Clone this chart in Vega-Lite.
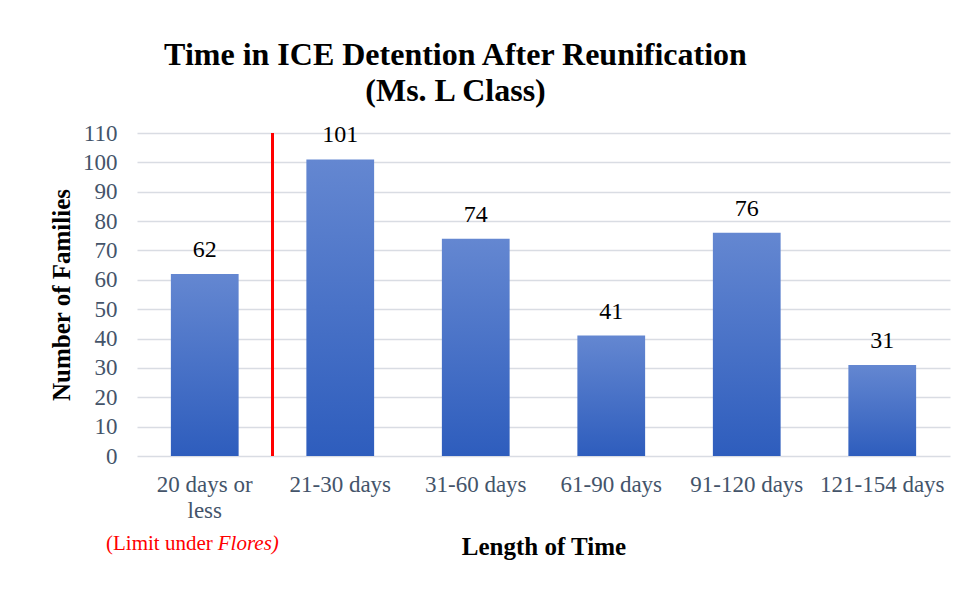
{
  "$schema": "https://vega.github.io/schema/vega-lite/v6.json",
  "width": 813,
  "height": 323,
  "autosize": "none",
  "padding": {"left": 137, "top": 133, "right": 14, "bottom": 136},
  "background": "white",
  "config": {"font": "Liberation Serif", "view": {"stroke": null}},
  "title": {
    "text": "Time in ICE Detention After Reunification",
    "subtitle": "(Ms. L Class)",
    "font": "Liberation Serif",
    "subtitleFont": "Liberation Serif",
    "fontSize": 32,
    "subtitleFontSize": 32,
    "fontWeight": "bold",
    "subtitleFontWeight": "bold",
    "color": "black",
    "subtitleColor": "black",
    "anchor": "middle",
    "dx": -88,
    "offset": 14,
    "subtitlePadding": 4
  },
  "datasets": {
    "bars": [
      {"cat": "20 days or less", "n": 62},
      {"cat": "21-30 days", "n": 101},
      {"cat": "31-60 days", "n": 74},
      {"cat": "61-90 days", "n": 41},
      {"cat": "91-120 days", "n": 76},
      {"cat": "121-154 days", "n": 31}
    ],
    "limit": [{"cat": "20 days or less", "n": 0, "hi": 110}],
    "note": [{"cat": "20 days or less", "n": -30, "a": "(Limit under", "b": "Flores)"}]
  },
  "encoding": {
    "x": {
      "field": "cat", "type": "nominal", "title": "Length of Time",
      "scale": {"domain": ["20 days or less", "21-30 days", "31-60 days", "61-90 days", "91-120 days", "121-154 days"], "paddingInner": 0.5, "paddingOuter": 0.25},
      "axis": {
        "labelAngle": 0,
        "labelExpr": "datum.value == '20 days or less' ? ['20 days or', 'less'] : datum.value",
        "labelFontSize": 23,
        "labelColor": "#44546A",
        "labelPadding": 17,
        "labelLineHeight": 26,
        "labelLimit": 300,
        "ticks": false,
        "domain": false,
        "titleFontSize": 25,
        "titleFontWeight": "bold",
        "titleColor": "black",
        "titlePadding": 12
      }
    },
    "y": {
      "field": "n", "type": "quantitative", "title": "Number of Families",
      "scale": {"domain": [0, 110], "nice": false},
      "axis": {
        "values": [0, 10, 20, 30, 40, 50, 60, 70, 80, 90, 100, 110],
        "labelOverlap": false,
        "labelFontSize": 23,
        "labelColor": "#44546A",
        "labelPadding": 20,
        "grid": true,
        "gridColor": "#D9DCE3",
        "gridWidth": 1.5,
        "ticks": false,
        "domain": false,
        "titleFontSize": 25,
        "titleFontWeight": "bold",
        "titleColor": "black",
        "titlePadding": 8
      }
    }
  },
  "layer": [
    {
      "data": {"name": "bars"},
      "mark": {
        "type": "bar",
        "color": {
          "gradient": "linear", "x1": 0, "y1": 0, "x2": 0, "y2": 1,
          "stops": [{"offset": 0, "color": "#6487D1"}, {"offset": 1, "color": "#2E5DBD"}]
        }
      }
    },
    {
      "data": {"name": "bars"},
      "mark": {"type": "text", "fontSize": 24, "color": "black", "baseline": "alphabetic", "dy": -17},
      "encoding": {
        "text": {"field": "n", "type": "quantitative"}
      }
    },
    {
      "data": {"name": "limit"},
      "mark": {"type": "rule", "color": "#FF0000", "strokeWidth": 3},
      "encoding": {
        "x": {"field": "cat", "type": "nominal", "bandPosition": 1.5},
        "y2": {"field": "hi"}
      }
    },
    {
      "data": {"name": "note"},
      "mark": {"type": "text", "fontSize": 21, "color": "#FF0000", "align": "right", "baseline": "middle", "dx": 8},
      "encoding": {
        "text": {"field": "a"}
      }
    },
    {
      "data": {"name": "note"},
      "mark": {"type": "text", "fontSize": 21, "color": "#FF0000", "align": "left", "baseline": "middle", "dx": 13, "fontStyle": "italic"},
      "encoding": {
        "text": {"field": "b"}
      }
    }
  ]
}
